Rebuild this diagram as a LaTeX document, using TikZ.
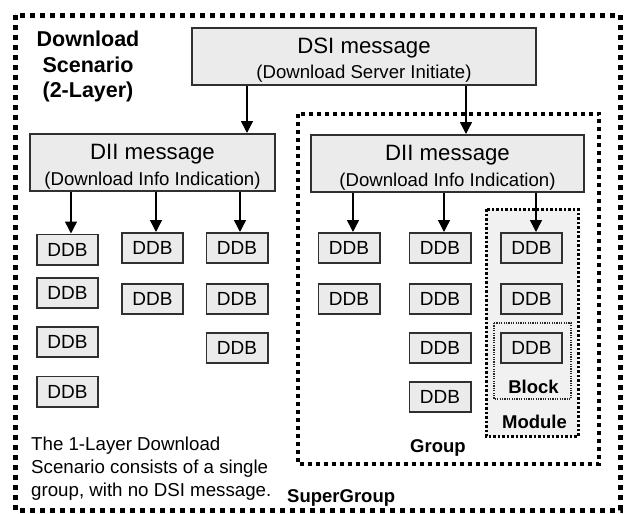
\documentclass[tikz,border=0pt]{standalone}
\usepackage{fontspec}
\setmainfont{Liberation Sans}
\usetikzlibrary{arrows.meta}
\definecolor{boxfill}{HTML}{EBEBEB}
\definecolor{boxline}{HTML}{303030}
\definecolor{modfill}{HTML}{F1F1F1}
\tikzset{
  msgbox/.style={draw=boxline, fill=boxfill, line width=1.8pt, inner sep=0pt},
  ddb/.style={msgbox, minimum width=61.2pt, minimum height=30.2pt,
    font=\fontsize{19}{19}\selectfont},
  bigtxt/.style={anchor=base, inner sep=0pt, font=\fontsize{22.2}{22.2}\selectfont},
  smalltxt/.style={anchor=base, inner sep=0pt, font=\fontsize{18.6}{18.6}\selectfont},
  boldtxt/.style={inner sep=0pt, font=\fontsize{18.5}{18.5}\selectfont\bfseries},
  titletxt/.style={anchor=base, inner sep=0pt, font=\fontsize{21.5}{21.5}\selectfont\bfseries},
  notetxt/.style={anchor=base west, inner sep=0pt, font=\fontsize{18.7}{18.7}\selectfont},
  arr/.style={draw=black, line width=1.4pt, -{Triangle[length=12pt,width=12pt]}},
  superbox/.style={draw=black, line width=5pt, dash pattern=on 5pt off 5pt},
  groupbox/.style={draw=black, line width=4pt, dash pattern=on 4pt off 4pt},
  modbox/.style={draw=black, fill=modfill, line width=3pt, dash pattern=on 2.5pt off 2pt},
  blockbox/.style={draw=black!85, line width=1.6pt, dash pattern=on 1.2pt off 1.2pt},
}
\begin{document}
\begin{tikzpicture}[x=1pt, y=-1pt]
\useasboundingbox (0,0) rectangle (627,514);
\fill[white] (0,0) rectangle (627,514);

% container outlines
\draw[superbox] (15,15) rectangle (620,510);
\draw[groupbox] (297.5,113.5) rectangle (599,463.5);
\draw[modbox] (486,209) rectangle (578,436);
\draw[blockbox] (494,323) rectangle (571,399);

% title
\node[titletxt] (t1) at (88,46) {Download};
\node[titletxt] (t2) at (88,72) {Scenario};
\node[titletxt] (t3) at (88,97) {(2-Layer)};

% DSI message
\node[msgbox, minimum width=344.2pt, minimum height=57.2pt] (dsi) at (364,56.5) {};
\node[bigtxt] (dsiA) at (364,53.3) {DSI message};
\node[smalltxt] (dsiB) at (364,78.3) {(Download Server Initiate)};

% DII messages
\node[msgbox, minimum width=245.2pt, minimum height=57.2pt] (diiL) at (152.5,162.5) {};
\node[bigtxt] (diiLA) at (152.5,159.3) {DII message};
\node[smalltxt] (diiLB) at (152.5,185) {(Download Info Indication)};

\node[msgbox, minimum width=273.2pt, minimum height=57.2pt] (diiR) at (447.5,163.5) {};
\node[bigtxt] (diiRA) at (447.5,160.3) {DII message};
\node[smalltxt] (diiRB) at (447.5,186) {(Download Info Indication)};

% DDBs, left group
\node[ddb] (l11) at (67.5,249.5) {DDB};
\node[ddb] (l12) at (67.5,293) {DDB};
\node[ddb] (l13) at (67.5,342) {DDB};
\node[ddb] (l14) at (67.5,391.5) {DDB};
\node[ddb] (l21) at (152.5,248) {DDB};
\node[ddb] (l22) at (152.5,299) {DDB};
\node[ddb] (l31) at (237,248) {DDB};
\node[ddb] (l32) at (237,299) {DDB};
\node[ddb] (l33) at (237,348) {DDB};

% DDBs, right group
\node[ddb] (r11) at (349,248) {DDB};
\node[ddb] (r12) at (349,299) {DDB};
\node[ddb] (r21) at (440,248) {DDB};
\node[ddb] (r22) at (440,299) {DDB};
\node[ddb] (r23) at (440,348) {DDB};
\node[ddb] (r24) at (440,397) {DDB};
\node[ddb] (r31) at (531.5,248) {DDB};
\node[ddb] (r32) at (531.5,299) {DDB};
\node[ddb] (r33) at (531.5,348) {DDB};

% arrows
\draw[arr] (dsi.south -| 247,0) -- (diiL.north -| 247,0);
\draw[arr] (dsi.south -| 466,0) -- (diiR.north -| 466,0);
\draw[arr] (diiL.south -| 71,0) -- (l11.north -| 71,0);
\draw[arr] (diiL.south -| 156,0) -- (l21.north -| 156,0);
\draw[arr] (diiL.south -| 240,0) -- (l31.north -| 240,0);
\draw[arr] (diiR.south -| 353,0) -- (r11.north -| 353,0);
\draw[arr] (diiR.south -| 444,0) -- (r21.north -| 444,0);
\draw[arr] (diiR.south -| 536,0) -- (r31.north -| 536,0);

% container labels
\node[boldtxt, anchor=base] (blk) at (533.5,393) {Block};
\node[boldtxt, anchor=base] (mod) at (534.5,428) {Module};
\node[boldtxt, anchor=base west] (grp) at (410,452) {Group};
\node[boldtxt, anchor=base west] (sgrp) at (287,502) {SuperGroup};

% note
\node[notetxt] (n1) at (31,450.7) {The 1-Layer Download};
\node[notetxt] (n2) at (31,473.5) {Scenario consists of a single};
\node[notetxt] (n3) at (31,496.5) {group, with no DSI message.};
\end{tikzpicture}
\end{document}
